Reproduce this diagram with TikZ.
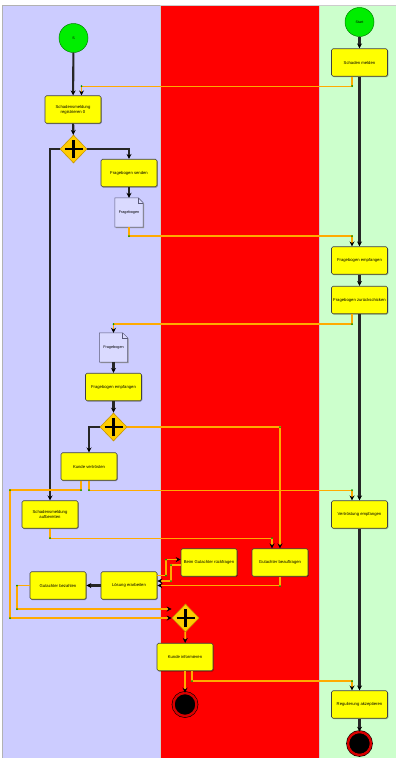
\documentclass[tikz,border=0pt]{standalone}
\usepackage{fontspec}
\setmainfont{Liberation Sans}
\usetikzlibrary{shapes.geometric,arrows.meta,shadows}
\definecolor{laneL}{RGB}{204,204,255}
\definecolor{laneM}{RGB}{255,0,0}
\definecolor{laneR}{RGB}{204,255,204}
\definecolor{taskY}{RGB}{255,255,0}
\definecolor{gold}{RGB}{255,204,0}
\definecolor{goldB}{RGB}{200,150,0}
\definecolor{orng}{RGB}{255,170,0}
\definecolor{stgreen}{RGB}{0,238,0}
\definecolor{docF}{RGB}{218,218,255}
\definecolor{docB}{RGB}{90,90,120}
\begin{document}
\begin{tikzpicture}[x=1pt,y=-1pt,
  task/.style={rectangle, rounded corners=1.5pt, draw=black!75, line width=0.6pt, fill=taskY,
    minimum width=56pt, minimum height=27.5pt, inner sep=0.5pt, align=center,
    font=\fontsize{4.2}{5}\selectfont,
    drop shadow={shadow xshift=0.8pt, shadow yshift=-0.8pt, fill=black, opacity=0.35}},
  gate/.style={diamond, draw=goldB, line width=0.6pt, fill=gold, minimum width=27pt,
    minimum height=28pt, inner sep=0pt,
    path picture={\draw[line width=2.5pt,black]
      ([xshift=-9pt]path picture bounding box.center) -- ([xshift=9pt]path picture bounding box.center)
      ([yshift=-9pt]path picture bounding box.center) -- ([yshift=9pt]path picture bounding box.center);}},
  docn/.style={rectangle, minimum width=28pt, minimum height=29pt, inner sep=0pt,
    font=\fontsize{3.8}{4.5}\selectfont},
  docline/.style={draw=docB, line width=0.5pt, fill=docF},
  startc/.style={circle, draw=green!50!black, line width=0.5pt, fill=stgreen, minimum size=29pt,
    inner sep=0pt, font=\fontsize{3.6}{4}\selectfont},
  endc/.style={circle, draw=black, line width=0.6pt, double=red!85!black, double distance=2.4pt,
    fill=black, minimum size=23pt, inner sep=0pt},
  flow/.style={draw=black!85, line width=2.1pt, -{Stealth[length=5pt,width=5pt,black]}},
  oflow/.style={draw=orng, line width=1.8pt, -{Stealth[length=5pt,width=5pt,black]}},
  gdot/.style={fill=green!60!black}
]
\useasboundingbox (0,0) rectangle (396,758);
\fill[white] (0,0) rectangle (396,758);
% lanes
\fill[laneL, draw=gray!60, line width=0.5pt] (2,5) rectangle (160,758);
\fill[laneM, draw=gray!40, line width=0.5pt] (160,5) rectangle (319,758);
\fill[laneR, draw=gray!40, line width=0.5pt] (319,5) rectangle (396,758);

% nodes
\node[startc] (startL) at (73.5,38) {S};
\node[startc] (startR) at (359.5,22) {Start};
\node[task] (reg) at (73,109.5) {Schadensmeldung\\registrieren 0};
\node[gate] (g1) at (73.5,149) {};
\node[task] (send) at (129,173) {Fragebogen senden};
\node[docn] (doc1) at (129,212.5) {};
\node[task] (melden) at (359.5,62.5) {Schaden melden};
\node[task] (empfR) at (359.5,260.5) {Fragebogen empfangen};
\node[task] (zur) at (359.5,300) {Fragebogen zurückschicken};
\node[docn] (doc2) at (113.5,347.5) {};
\node[task] (empfL) at (113.5,387) {Fragebogen empfangen};
\node[gate] (g2) at (113.5,427) {};
\node[task] (vert) at (89,466.5) {Kunde vertrösten};
\node[task] (aufb) at (50,514.5) {Schadensmeldung\\aufbereiten};
\node[task] (vempf) at (359.5,514.5) {Vertröstung empfangen};
\node[task] (beauf) at (280,562.5) {Gutachter beauftragen};
\node[task] (rueck) at (209,562.5) {Beim Gutachter rückfragen};
\node[task] (loes) at (129,585.5) {Lösung erarbeiten};
\node[task] (bez) at (58,585.5) {Gutachter bezahlen};
\node[gate] (g3) at (185.5,618) {};
\node[task] (inform) at (185,657) {Kunde informieren};
\node[endc] (endM) at (185,704.5) {};
\node[task] (regak) at (359.5,704.5) {Regulierung akzeptieren};
\node[endc] (endR) at (359.5,743.5) {};

% documents
\foreach \d in {doc1,doc2}{
  \fill[black!40] ([shift={(1pt,-1pt)}]\d.south west) -- ([shift={(1pt,-1pt)}]\d.north west)
    -- ([shift={(-4pt,-1pt)}]\d.north east) -- ([shift={(1pt,-6pt)}]\d.north east)
    -- ([shift={(1pt,-1pt)}]\d.south east) -- cycle;
  \draw[docline] (\d.south west) -- (\d.north west) -- ([xshift=-5pt]\d.north east)
    -- ([yshift=-5pt]\d.north east) -- (\d.south east) -- cycle;
  \draw[docline, fill=none] ([xshift=-5pt]\d.north east) -- ([shift={(-5pt,-5pt)}]\d.north east)
    -- ([yshift=-5pt]\d.north east);
  \node[docn] at (\d.center) {Fragebogen};
}

% black flows
\draw[flow] (startL) -- (reg);
\draw[flow] (reg) -- (g1);
\draw[flow] (g1.east) -| (send.north);
\draw[flow] (g1.west) -| (aufb.north);
\draw[flow] (send) -- (doc1);
\draw[flow] (startR) -- (melden);
\draw[flow] (melden) -- (empfR);
\draw[flow] (empfR) -- (zur);
\draw[flow] (zur) -- (vempf);
\draw[flow] (vempf) -- (regak);
\draw[flow] (regak) -- (endR);
\draw[flow] (doc2) -- (empfL);
\draw[flow] (empfL) -- (g2);
\draw[flow] (g2.west) -| (vert.north);
\draw[flow] (loes) -- (bez);

% orange message flows
\coordinate (lc1) at (10,490);
\draw[oflow] ([xshift=-7.5pt]melden.south) -- ++(0,10) -| ([xshift=8.5pt]reg.north);
\draw[oflow] (doc1.south) -- ++(0,9) -| ([xshift=-7.5pt]empfR.north);
\draw[oflow] ([xshift=-7.5pt]zur.south) -- ++(0,10) -| (doc2.north);
\draw[oflow] (g2.east) -| (beauf.north);
\draw[oflow] ([xshift=-8pt]vert.south) |- (lc1) |- (g3.west);
\draw[oflow] (vert.south) -- ++(0,10) -| ([xshift=-7.5pt]vempf.north);
\draw[oflow] (aufb.south) -- ++(0,10) -| ([xshift=-8pt]beauf.north);
\draw[oflow] (beauf.south) |- (loes.east);
\draw[oflow] ([yshift=10pt]loes.east) -- ++(9,0) |- ([yshift=3pt]rueck.west);
\draw[oflow] ([yshift=-2.5pt]rueck.west) -- ++(-10,0) |- ([yshift=4.5pt]loes.east);
\draw[oflow] (bez.west) -- ++(-13,0) |- ([yshift=9pt]g3.west);
\draw[oflow] (g3) -- (inform);
\draw[oflow] (inform) -- (endM);
\draw[oflow] ([xshift=7pt]inform.south) -- ++(0,10) -| ([xshift=-7.5pt]regak.north);

% bend markers
\foreach \p in {(352,86),(81.5,86),(129,236),(352,236),(352,324),(113.5,324),(280,427),
  (81,490),(10,490),(10,618),(89,490),(352,490),(50,538),(272,538),(280,586),
  (166,575.5),(166,559.5),(171,565),(171,581),(17,585.5),(17,609),(192,681),(352,681)}
  \fill[gdot] \p circle (1pt);
\end{tikzpicture}
\end{document}
